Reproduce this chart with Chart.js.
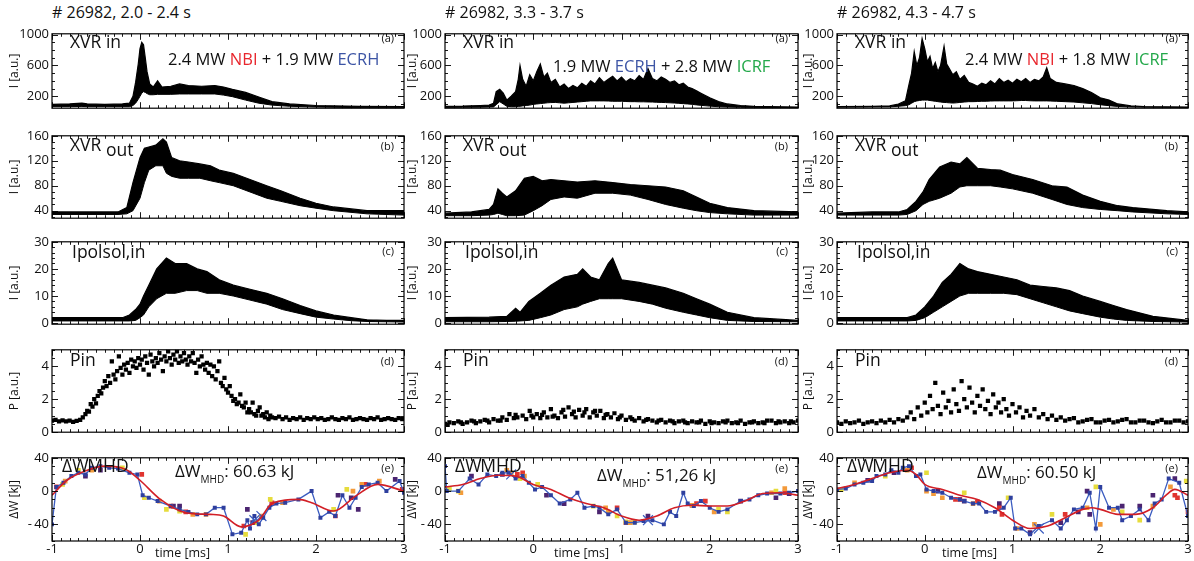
<!DOCTYPE html>
<html>
<head>
<meta charset="utf-8">
<script src="https://cdn.jsdelivr.net/npm/chart.js@4.4.1/dist/chart.umd.min.js"></script>
<style>
  html, body { margin: 0; padding: 0; background: #fff; }
  #fig { position: relative; width: 1194px; height: 561px; overflow: hidden;
         font-family: "Open Sans", sans-serif; color: #111; }
  #fig canvas { position: absolute; }
  .t { position: absolute; white-space: nowrap; line-height: 1; z-index: 2; }
  .nbi { color: #e8262d; } .ecrh { color: #3d55a5; } .icrf { color: #23a84a; }
  .sub { font-size: 10px; position: relative; top: 6px; }
</style>
</head>
<body>
<div id="fig"></div>
<script>
// ---- data ----
const TIME_TICKS = [-1, 0, 1, 2, 3];
const TICKS_A = [200, 600, 1000];
const TICKS_B = [40, 80, 120, 160];
const TICKS_C = [0, 10, 20, 30];
const TICKS_D = [0, 2, 4];
const TICKS_E = [-40, 0, 40];

const TITLES = ["# 26982, 2.0 - 2.4 s", "# 26982, 3.3 - 3.7 s", "# 26982, 4.3 - 4.7 s"];
const DW_MHD = ["60.63 kJ", "51,26 kJ", "60.50 kJ"];

// XVR in: envelopes of the overlaid traces
const T_A1 = [-1, -0.8, -0.66, -0.6, -0.4, -0.2, -0.12, -0.08, -0.05, -0.02, 0.0, 0.02, 0.04, 0.06, 0.08, 0.11, 0.15, 0.2, 0.25, 0.35, 0.45, 0.55, 0.7, 0.85, 0.95, 1.05, 1.2, 1.35, 1.5, 1.7, 2.0, 2.5, 3.0];
const A1_HI = [95, 100, 110, 100, 95, 100, 110, 200, 380, 620, 820, 900, 870, 700, 520, 360, 320, 400, 320, 330, 360, 340, 330, 340, 320, 290, 250, 190, 130, 100, 80, 70, 65];
const A1_LO = [65, 65, 68, 65, 65, 65, 65, 80, 110, 160, 200, 240, 260, 250, 235, 220, 220, 225, 225, 225, 230, 230, 230, 230, 215, 195, 150, 110, 85, 70, 60, 52, 50];

const T_A2 = [-1, -0.8, -0.6, -0.5, -0.45, -0.42, -0.38, -0.34, -0.3, -0.25, -0.2, -0.17, -0.15, -0.12, -0.08, -0.04, 0, 0.04, 0.08, 0.12, 0.16, 0.2, 0.25, 0.3, 0.35, 0.4, 0.45, 0.5, 0.55, 0.6, 0.65, 0.7, 0.75, 0.8, 0.85, 0.9, 0.95, 1.0, 1.05, 1.1, 1.15, 1.2, 1.25, 1.3, 1.35, 1.4, 1.45, 1.5, 1.55, 1.6, 1.65, 1.7, 1.75, 1.8, 1.85, 1.9, 2.0, 2.1, 2.2, 2.35, 2.5, 3.0];
const A2_HI = [70, 72, 80, 85, 110, 260, 290, 240, 150, 200, 260, 420, 600, 420, 330, 480, 400, 520, 620, 450, 500, 380, 420, 320, 360, 300, 340, 310, 370, 330, 400, 360, 440, 380, 420, 460, 400, 450, 390, 430, 400, 470, 420, 560, 430, 400, 450, 420, 380, 400, 350, 370, 320, 300, 270, 240, 180, 130, 100, 80, 70, 60];
const A2_LO = [55, 56, 58, 60, 62, 90, 130, 100, 70, 65, 65, 68, 70, 75, 80, 85, 95, 100, 105, 110, 115, 118, 120, 115, 110, 115, 120, 125, 130, 135, 140, 140, 140, 140, 138, 135, 135, 135, 132, 130, 130, 128, 128, 126, 125, 122, 120, 118, 115, 112, 108, 104, 100, 95, 88, 82, 72, 64, 60, 56, 55, 52];

const T_A3 = [-1, -0.6, -0.4, -0.3, -0.22, -0.18, -0.15, -0.12, -0.09, -0.06, -0.03, 0, 0.03, 0.06, 0.09, 0.12, 0.15, 0.18, 0.22, 0.25, 0.28, 0.32, 0.36, 0.4, 0.45, 0.5, 0.55, 0.6, 0.65, 0.7, 0.75, 0.8, 0.85, 0.9, 0.95, 1.0, 1.05, 1.1, 1.15, 1.2, 1.25, 1.3, 1.35, 1.39, 1.43, 1.5, 1.6, 1.7, 1.8, 1.9, 2.0, 2.1, 2.2, 2.35, 2.5, 3.0];
const A3_HI = [65, 70, 75, 100, 140, 350, 500, 780, 600, 700, 950, 820, 650, 720, 560, 640, 520, 600, 850, 620, 560, 480, 520, 420, 470, 380, 360, 330, 370, 350, 400, 360, 430, 380, 410, 370, 420, 390, 430, 380, 420, 400, 450, 570, 430, 380, 360, 340, 300, 250, 180, 150, 100, 75, 65, 60];
const A3_LO = [58, 60, 62, 70, 78, 90, 110, 130, 140, 145, 150, 150, 150, 145, 140, 135, 130, 125, 120, 118, 115, 112, 115, 120, 125, 130, 130, 132, 135, 135, 138, 140, 140, 140, 140, 140, 142, 145, 145, 142, 140, 140, 140, 140, 138, 135, 130, 125, 115, 105, 90, 78, 68, 60, 58, 55];

// XVR out
const T_B1 = [-1, -0.5, -0.25, -0.15, -0.08, 0.0, 0.05, 0.1, 0.18, 0.26, 0.3, 0.36, 0.45, 0.55, 0.68, 0.8, 0.9, 1.06, 1.25, 1.44, 1.6, 1.82, 2.0, 2.2, 2.58, 3.0];
const B1_HI = [38, 38, 38, 45, 85, 125, 140, 142, 145, 155, 150, 125, 120, 118, 115, 112, 105, 100, 90, 80, 72, 60, 52, 46, 40, 40];
const B1_LO = [34, 34, 34, 35, 40, 60, 85, 105, 112, 112, 100, 95, 92, 92, 92, 88, 85, 80, 70, 60, 55, 48, 44, 40, 35, 33];

const T_B2 = [-1, -0.7, -0.5, -0.45, -0.4, -0.35, -0.3, -0.2, -0.1, 0.0, 0.1, 0.2, 0.35, 0.5, 0.7, 0.9, 1.1, 1.3, 1.5, 1.7, 1.85, 2.0, 2.2, 2.5, 3.0];
const B2_HI = [36, 38, 42, 50, 75, 68, 62, 72, 92, 95, 88, 90, 88, 86, 88, 85, 82, 80, 78, 72, 62, 52, 45, 40, 38];
const B2_LO = [32, 32, 33, 34, 36, 34, 32, 32, 33, 40, 48, 58, 62, 60, 68, 68, 65, 58, 50, 44, 40, 37, 35, 33, 33];

const T_B3 = [-1, -0.6, -0.3, -0.2, -0.1, -0.02, 0.05, 0.17, 0.3, 0.4, 0.48, 0.6, 0.75, 0.86, 1.0, 1.23, 1.45, 1.62, 1.8, 2.0, 2.2, 2.37, 2.76, 3.0];
const B3_HI = [36, 38, 38, 42, 55, 70, 90, 110, 118, 115, 125, 108, 106, 105, 98, 90, 80, 78, 65, 55, 48, 45, 40, 38];
const B3_LO = [33, 33, 33, 34, 40, 50, 55, 60, 68, 78, 80, 80, 80, 78, 75, 68, 58, 50, 45, 42, 40, 38, 35, 34];

// Ipolsol,in
const T_C1 = [-1, -0.5, -0.2, -0.12, -0.05, 0.0, 0.04, 0.1, 0.19, 0.3, 0.4, 0.53, 0.65, 0.76, 0.9, 1.06, 1.25, 1.44, 1.62, 1.82, 2.0, 2.2, 2.4, 2.58, 2.8, 3.0];
const C1_HI = [2, 2, 2, 3, 5, 7, 10, 14, 20, 24, 22, 22, 20, 19, 16, 14, 12.5, 11, 9, 6.5, 4.5, 3, 2, 1.2, 1, 1];
const C1_LO = [0.8, 0.8, 0.8, 0.8, 1, 2, 3, 6, 9, 11, 11, 12, 12, 11, 11, 10, 8.5, 7, 5, 3.5, 2.2, 1.5, 0.9, 0.6, 0.5, 0.4];

const T_C2 = [-1, -0.5, -0.3, -0.2, -0.15, -0.05, 0.08, 0.2, 0.35, 0.5, 0.56, 0.65, 0.75, 0.85, 0.9, 1.0, 1.2, 1.35, 1.5, 1.7, 1.85, 2.0, 2.2, 2.5, 3.0];
const C2_HI = [2, 2.2, 2.5, 5.5, 4, 8, 11, 14, 17, 18, 20, 17, 16, 22, 24, 16, 15, 14, 13, 11, 9, 7, 4, 2, 1];
const C2_LO = [0.5, 0.5, 0.6, 0.7, 0.8, 1, 2, 3, 5, 6, 7, 8, 9, 9, 9, 9, 8, 7, 5.5, 4, 3, 2, 1, 0.6, 0.5];

const T_C3 = [-1, -0.5, -0.2, -0.1, 0.0, 0.1, 0.2, 0.3, 0.4, 0.5, 0.6, 0.75, 0.9, 1.05, 1.2, 1.35, 1.5, 1.65, 1.8, 2.0, 2.15, 2.3, 2.6, 3.0];
const C3_HI = [2, 2, 2, 3, 6, 10, 15, 18, 22, 20, 19, 18, 17, 16, 14, 13.5, 13, 12, 10, 8, 6.5, 5, 2.5, 1];
const C3_LO = [0.8, 0.8, 0.8, 1, 2, 4, 6, 8, 10, 11, 11, 11, 11, 10.5, 9, 7.5, 6, 4.5, 3.5, 2.2, 1.5, 1, 0.6, 0.4];

// Pin scatter [t, P]
const D1 = [[-1,0.7],[-0.96,0.75],[-0.92,0.65],[-0.88,0.72],[-0.84,0.66],[-0.8,0.7],[-0.76,0.62],[-0.72,0.68],[-0.68,0.75],[-0.65,0.9],
  [-0.62,1.1],[-0.6,1.3],[-0.58,1.25],[-0.56,1.7],[-0.54,1.55],[-0.52,2.0],[-0.5,1.75],[-0.48,2.2],[-0.46,2.5],[-0.44,2.35],
  [-0.42,2.7],[-0.4,3.1],[-0.38,2.8],[-0.36,3.4],[-0.34,3.0],[-0.32,4.3],[-0.3,3.5],[-0.28,3.2],[-0.26,3.7],[-0.24,4.6],
  [-0.22,3.9],[-0.2,3.5],[-0.18,4.1],[-0.16,3.8],[-0.14,4.2],[-0.12,3.6],[-0.1,4.4],[-0.08,4.0],[-0.06,4.3],[-0.04,3.9],
  [-0.02,4.5],[0,4.1],[0.02,4.4],[0.04,3.8],[0.06,4.6],[0.08,4.2],[0.1,3.5],[0.12,4.7],[0.14,4.3],[0.16,4.0],
  [0.18,4.5],[0.2,4.2],[0.22,4.8],[0.24,4.4],[0.26,3.7],[0.28,4.6],[0.3,4.3],[0.32,4.9],[0.34,4.5],[0.36,4.1],
  [0.38,4.7],[0.4,4.4],[0.42,4.9],[0.44,4.2],[0.46,4.6],[0.48,4.3],[0.5,4.8],[0.52,4.4],[0.54,4.1],[0.56,4.6],
  [0.58,4.3],[0.6,4.8],[0.62,4.2],[0.64,3.6],[0.66,4.4],[0.68,4.0],[0.7,4.6],[0.72,4.1],[0.74,3.8],[0.76,4.2],
  [0.78,3.6],[0.8,4.1],[0.82,3.4],[0.84,4.0],[0.86,3.2],[0.88,3.7],[0.9,4.3],[0.92,3.0],[0.94,2.8],[0.96,3.3],
  [0.98,2.6],[1.0,2.4],[1.02,2.8],[1.04,2.2],[1.06,1.9],[1.08,2.0],[1.1,1.7],[1.12,1.8],[1.14,2.3],[1.16,1.6],
  [1.18,1.5],[1.2,1.8],[1.22,1.2],[1.24,1.4],[1.26,1.2],[1.28,1.8],[1.3,1.1],[1.32,1.0],[1.34,1.3],[1.36,1.5],
  [1.38,1.0],[1.4,1.1],[1.42,0.9],[1.44,1.2],[1.46,0.8],[1.48,1.0],[1.5,0.9],[1.54,0.85],[1.58,0.95],[1.62,0.8],
  [1.66,0.9],[1.7,0.75],[1.74,0.85],[1.78,0.8],[1.82,0.9],[1.86,0.75],[1.9,0.85],[1.94,0.8],[1.98,0.9],[2.02,0.8],
  [2.06,0.85],[2.1,0.75],[2.14,0.8],[2.18,0.9],[2.22,0.8],[2.26,0.75],[2.3,0.85],[2.34,0.8],[2.38,0.9],[2.42,0.75],
  [2.46,0.8],[2.5,0.85],[2.54,0.8],[2.58,0.75],[2.62,0.85],[2.66,0.8],[2.7,0.9],[2.74,0.75],[2.78,0.8],[2.82,0.85],
  [2.86,0.8],[2.9,0.75],[2.94,0.85],[2.98,0.8]];
const D2 = [[-1,0.5],[-0.95,0.6],[-0.9,0.55],[-0.85,0.65],[-0.8,0.5],[-0.75,0.6],[-0.7,0.7],[-0.65,0.55],[-0.6,0.65],[-0.55,0.75],
  [-0.5,0.6],[-0.45,0.8],[-0.4,0.7],[-0.35,0.9],[-0.3,0.75],[-0.27,1.1],[-0.22,0.85],[-0.18,0.9],[-0.12,1.0],[-0.08,0.8],
  [-0.04,1.3],[0,0.9],[0.04,1.1],[0.08,0.85],[0.12,1.2],[0.16,0.9],[0.2,1.4],[0.24,1.0],[0.28,0.85],[0.32,1.2],
  [0.36,0.95],[0.4,1.5],[0.44,1.1],[0.48,0.9],[0.52,1.35],[0.56,1.0],[0.6,1.4],[0.64,0.9],[0.68,1.2],[0.72,1.0],
  [0.76,1.3],[0.8,0.85],[0.84,1.1],[0.88,0.9],[0.92,1.15],[0.96,0.8],[1.0,1.0],[1.05,0.75],[1.1,0.9],[1.15,0.7],
  [1.2,0.85],[1.25,0.65],[1.3,0.8],[1.35,0.7],[1.4,0.6],[1.45,0.75],[1.5,0.6],[1.55,0.7],[1.6,0.55],[1.65,0.65],
  [1.7,0.7],[1.75,0.55],[1.8,0.65],[1.85,0.6],[1.9,0.7],[1.95,0.5],[2.0,0.65],[2.05,0.6],[2.1,0.55],[2.15,0.65],
  [2.2,0.7],[2.25,0.55],[2.3,0.6],[2.35,0.7],[2.4,0.5],[2.45,0.6],[2.5,0.65],[2.55,0.55],[2.6,0.6],[2.65,0.7],
  [2.7,0.7],[2.75,0.55],[2.8,0.6],[2.85,0.65],[2.9,0.55],[2.95,0.6],[3.0,0.7],
  [-0.97,0.45],[-0.82,0.6],[-0.67,0.65],[-0.52,0.7],[-0.37,0.7],[-0.2,1.05],[-0.02,1.0],[0.1,1.05],[0.22,0.95],[0.34,1.35],
  [0.46,1.25],[0.58,1.2],[0.7,1.3],[0.82,1.05],[0.98,0.9],[1.12,0.8],[1.28,0.75],[1.42,0.7],[1.58,0.65],[1.72,0.6],
  [1.88,0.6],[2.02,0.55],[2.18,0.6],[2.32,0.55],[2.48,0.6],[2.62,0.55],[2.78,0.65],[2.92,0.65]];
const D3 = [[-1,0.6],[-0.95,0.5],[-0.9,0.65],[-0.85,0.55],[-0.8,0.6],[-0.75,0.7],[-0.7,0.5],[-0.65,0.6],[-0.6,0.65],[-0.55,0.55],
  [-0.5,0.7],[-0.45,0.6],[-0.4,0.75],[-0.35,0.6],[-0.3,0.8],[-0.25,0.7],[-0.2,0.9],[-0.16,1.2],[-0.12,0.8],[-0.08,1.5],
  [-0.04,1.0],[0.0,1.8],[0.03,1.2],[0.06,2.2],[0.09,1.4],[0.12,3.0],[0.15,1.6],[0.18,1.1],[0.21,2.4],[0.24,1.5],
  [0.27,1.9],[0.3,1.2],[0.33,2.6],[0.36,1.7],[0.39,1.3],[0.42,3.1],[0.45,2.0],[0.48,1.5],[0.51,2.7],[0.54,1.8],
  [0.57,1.2],[0.6,2.2],[0.63,1.6],[0.66,2.6],[0.69,1.4],[0.72,1.9],[0.75,1.1],[0.78,2.3],[0.81,1.5],[0.84,1.8],
  [0.87,1.2],[0.9,2.0],[0.93,1.4],[0.96,1.0],[1.0,1.7],[1.04,1.2],[1.08,1.5],[1.12,0.9],[1.16,1.3],[1.2,1.0],
  [1.25,1.4],[1.3,0.9],[1.35,1.1],[1.4,0.8],[1.45,1.0],[1.5,0.75],[1.55,0.9],[1.6,0.7],[1.65,0.8],[1.7,0.85],
  [1.75,0.6],[1.8,0.65],[1.85,0.75],[1.9,0.8],[1.95,0.6],[2.0,0.6],[2.05,0.7],[2.1,0.75],[2.15,0.6],[2.2,0.65],
  [2.25,0.75],[2.3,0.8],[2.35,0.6],[2.4,0.6],[2.45,0.7],[2.5,0.7],[2.55,0.6],[2.6,0.55],[2.65,0.65],[2.7,0.75],
  [2.75,0.6],[2.8,0.6],[2.85,0.7],[2.9,0.7],[2.95,0.6],[3.0,0.65]];

// Delta W_MHD: smoothed fit (red)
const T_R1 = [-1, -0.83, -0.6, -0.4, -0.16, 0.0, 0.22, 0.52, 0.8, 0.95, 1.15, 1.35, 1.5, 1.8, 1.95, 2.2, 2.45, 2.7, 3.0];
const R1_Y = [-5, 13, 25, 30, 26, 13, -9, -26, -28, -30, -43, -35, -15, -10, -14, -24, -6, 8, 0];
const T_R2 = [-1, -0.8, -0.6, -0.4, -0.2, 0.0, 0.2, 0.4, 0.6, 0.8, 1.0, 1.2, 1.4, 1.6, 1.8, 2.0, 2.2, 2.4, 2.6, 2.8, 3.0];
const R2_Y = [5, 8, 15, 19, 18, 8, 2, -8, -15, -20, -30, -35, -30, -20, -17, -18, -18, -12, -3, -2, -5];
const T_R3 = [-1, -0.8, -0.6, -0.4, -0.2, -0.1, 0.0, 0.2, 0.4, 0.6, 0.8, 1.0, 1.2, 1.4, 1.6, 1.8, 1.9, 2.0, 2.2, 2.4, 2.6, 2.75, 2.85, 3.0];
const R3_Y = [3, 8, 15, 22, 25, 20, 8, 2, -5, -10, -20, -35, -45, -42, -32, -22, -20, -22, -28, -28, -20, -5, 2, -5];

// Delta W_MHD: raw trace (blue) [t, dW]
const E1_BLUE = [[-1,-40],[-0.95,5],[-0.87,10],[-0.78,18],[-0.7,22],[-0.62,20],[-0.55,28],[-0.45,30],[-0.35,28],[-0.25,27],[-0.12,22],[-0.03,20],[0.03,-5],[0.1,-8],[0.2,-12],[0.35,-18],[0.45,-22],[0.55,-25],[0.65,-28],[0.75,-28],[0.85,-20],[0.95,-20],[1.05,-52],[1.15,-50],[1.22,-35],[1.25,-45],[1.3,-30],[1.35,-40],[1.4,-32],[1.47,-20],[1.55,-15],[1.65,-14],[1.8,-10],[1.95,0],[2.05,-32],[2.15,-25],[2.22,-30],[2.3,-5],[2.38,-20],[2.45,-8],[2.52,5],[2.6,8],[2.7,10],[2.8,0],[2.95,12],[3.0,-2]];
const E2_BLUE = [[-1,30],[-0.98,0],[-0.85,0],[-0.72,15],[-0.62,8],[-0.52,20],[-0.42,18],[-0.35,22],[-0.28,22],[-0.2,15],[-0.12,18],[-0.05,10],[0.02,2],[0.1,5],[0.2,-5],[0.3,-15],[0.42,-10],[0.5,-2],[0.58,-20],[0.68,-18],[0.75,-20],[0.85,-28],[0.95,-22],[1.05,-38],[1.15,-38],[1.25,-36],[1.35,-35],[1.48,-40],[1.55,-25],[1.62,-30],[1.7,-2],[1.75,-15],[1.82,-18],[1.9,-12],[2.0,-20],[2.1,-25],[2.2,-22],[2.35,-12],[2.45,-10],[2.55,-5],[2.65,-3],[2.8,-3],[2.9,-2],[3.0,0]];
const E3_BLUE = [[-1,2],[-0.9,3],[-0.8,8],[-0.7,10],[-0.6,12],[-0.55,18],[-0.45,20],[-0.38,25],[-0.3,22],[-0.25,28],[-0.18,30],[-0.1,18],[-0.05,20],[0.02,2],[0.1,0],[0.2,-2],[0.3,-8],[0.4,-10],[0.45,-12],[0.55,-15],[0.62,-15],[0.7,-25],[0.8,-25],[0.9,-20],[0.98,-8],[1.03,-45],[1.1,-45],[1.2,-52],[1.3,-42],[1.45,-35],[1.55,-45],[1.62,-35],[1.7,-22],[1.8,-20],[1.88,-2],[1.95,-45],[2.0,5],[2.1,-20],[2.2,-20],[2.25,-35],[2.35,-30],[2.45,-22],[2.55,-35],[2.62,-15],[2.7,-10],[2.78,15],[2.9,10],[3.0,-30]];
const E1_CROSS = [[1.3,-35], [1.38,-30]];
const E2_CROSS = [[-0.25,20], [1.3,-35]];
const E3_CROSS = [[1.3,-45]];

// Delta W_MHD: individual shots (coloured squares)
const E1_YELLOW = [[-0.88,8],[-0.7,25],[-0.2,28],[0.05,-8],[0.3,-22],[0.45,-24],[1.2,-52],[1.33,-38],[1.48,-10],[2.35,2],[2.2,-22]];
const E1_ORANGE = [[-0.85,12],[-0.55,25],[0.22,-12],[0.6,-28],[0.75,-28],[1.38,-30],[1.62,-14],[2.42,0],[2.52,8],[2.72,12]];
const E1_RED = [[-0.95,5],[0.02,20],[0.35,-18],[0.52,-25],[1.18,-42],[1.5,-14],[2.22,-30],[2.56,8],[2.98,2]];
const E1_PURPLE = [[-0.62,18],[-0.45,25],[0.38,-18],[0.45,-18],[1.22,-22],[1.28,-38],[1.5,-15],[2.25,-5],[2.4,-8],[2.48,-22],[2.9,14]];
const E2_YELLOW = [[-0.95,2],[-0.85,0],[-0.15,15],[0.05,8],[0.68,-18],[0.95,-30],[1.05,-37],[1.15,-37],[2.1,-22],[2.2,-25],[2.75,0]];
const E2_ORANGE = [[-0.82,-2],[-0.25,22],[-0.3,25],[-0.1,18],[0.82,-20],[0.85,-25],[1.1,-38],[1.8,-17],[2.05,-25],[2.7,-2],[2.85,3]];
const E2_RED = [[-0.18,20],[-0.12,22],[0.95,-20],[1.05,-38],[1.85,-15],[1.95,-12],[2.85,-2]];
const E2_PURPLE = [[-0.7,18],[-0.35,20],[0.15,-5],[0.35,-15],[0.75,-25],[1.3,-30],[1.8,-17],[2.35,-12],[2.75,-8],[2.9,-3]];
const E3_YELLOW = [[-0.95,2],[-0.45,18],[0.02,22],[0.45,-2],[0.95,-8],[1.45,-28],[1.95,5],[2.25,-25],[2.45,-35],[2.98,12]];
const E3_ORANGE = [[-0.8,10],[-0.2,25],[0.02,0],[0.1,-3],[0.2,-8],[0.55,-15],[1.05,-45],[1.25,-40],[1.85,-20],[2.0,-40],[2.15,-22],[2.6,-18],[2.8,5]];
const E3_RED = [[-0.15,28],[0.35,-10],[0.4,-10],[0.6,-13],[0.85,-20],[0.88,-28],[1.6,-28],[2.85,-5],[2.88,-8],[3.0,-25]];
const E3_PURPLE = [[-0.65,13],[-0.35,22],[0.15,0],[0.45,-12],[0.85,-15],[1.2,-50],[1.55,-38],[1.75,-25],[1.88,-28],[1.85,0],[2.25,-18],[2.45,-18],[2.6,-5],[2.85,15]];

// ---- layout ----
const COLS = [
  { l: 52, r: 404, lab: 50, tpad: 5, tag: 394 },
  { l: 445, r: 798, lab: 40, tpad: 0, tag: 788 },
  { l: 837, r: 1188, lab: 36, tpad: 0, tag: 1178 }
];
const ROWS = [
  { t: 31, b: 111, min: 45, max: 1012, ticks: TICKS_A, minor: 100, title: "I [a.u.]" },
  { t: 133, b: 221, min: 28, max: 160, ticks: TICKS_B, minor: 10, title: "I [a.u.]" },
  { t: 239, b: 327, min: -0.4, max: 30, ticks: TICKS_C, minor: 2, title: "I [a.u.]" },
  { t: 347, b: 435, min: 0, max: 5, ticks: TICKS_D, minor: 0.5, title: "P [a.u.]" },
  { t: 455, b: 541, min: -60, max: 40, ticks: TICKS_E, minor: 10, title: "\u0394W [kJ]" }
];

Chart.defaults.font.family = '"Open Sans", sans-serif';
Chart.defaults.color = "#111";

const fig = document.getElementById("fig");

const pairs = (arr) => arr.map((p) => ({ x: p[0], y: p[1] }));
const zip = (t, v) => t.map((x, i) => ({ x, y: v[i] }));

function band(t, lo, hi) {
  return [
    { data: zip(t, lo), borderColor: "#000", borderWidth: 1, pointRadius: 0, fill: false, tension: 0 },
    { data: zip(t, hi), borderColor: "#000", borderWidth: 1.2, pointRadius: 0, fill: "-1", backgroundColor: "#000", tension: 0 }
  ];
}

function dots(arr, color, r) {
  return { data: pairs(arr), showLine: false, pointStyle: "rect", pointRadius: r, pointBackgroundColor: color, pointBorderColor: color, pointBorderWidth: 0 };
}

// box with IDL-like ticks on all four sides
const framePlugin = {
  id: "frame",
  afterDatasetsDraw(chart, args, o) {
    const { ctx, chartArea: a, scales: { x, y } } = chart;
    const near = (v, list) => list.some((m) => Math.abs(m - v) < 1e-6);
    ctx.save();
    ctx.strokeStyle = "#000";
    ctx.lineWidth = 1.2;
    ctx.strokeRect(a.left, a.top, a.right - a.left, a.bottom - a.top);
    ctx.lineWidth = 0.9;
    ctx.beginPath();
    for (let i = -10; i <= 30; i++) {
      const v = i / 10;
      const len = near(v, TIME_TICKS) ? 6 : 3;
      const px = Math.round(x.getPixelForValue(v)) + 0.5;
      ctx.moveTo(px, a.bottom); ctx.lineTo(px, a.bottom - len);
      ctx.moveTo(px, a.top); ctx.lineTo(px, a.top + len);
    }
    const n = Math.round((y.max - y.min) / o.minor) + 2;
    const start = Math.ceil(y.min / o.minor) * o.minor;
    for (let i = 0; i < n; i++) {
      const v = +(start + i * o.minor).toFixed(4);
      if (v > y.max) break;
      const len = near(v, o.major) ? 6 : 3;
      const py = Math.round(y.getPixelForValue(v)) + 0.5;
      ctx.moveTo(a.left, py); ctx.lineTo(a.left + len, py);
      ctx.moveTo(a.right, py); ctx.lineTo(a.right - len, py);
    }
    ctx.stroke();
    ctx.restore();
  }
};

function makePanel(ci, ri, datasets) {
  const c = COLS[ci], r = ROWS[ri];
  const bottom = ri === 4;
  const padB = bottom ? 0 : 8;
  const xh = bottom ? 22 : 0;
  const cv = document.createElement("canvas");
  cv.width = c.r - c.l + c.lab + 6;
  cv.height = r.b - r.t + 8 + padB + xh;
  cv.style.left = (c.l - c.lab) + "px";
  cv.style.top = (r.t - 8) + "px";
  fig.appendChild(cv);

  new Chart(cv, {
    type: "line",
    data: { datasets },
    options: {
      responsive: false,
      animation: false,
      events: [],
      devicePixelRatio: 1,
      layout: { padding: { left: 0, top: 8, right: 6, bottom: padB }, autoPadding: false },
      plugins: {
        legend: { display: false },
        tooltip: { enabled: false },
        frame: { minor: r.minor, major: r.ticks }
      },
      scales: {
        x: {
          type: "linear", min: -1, max: 3, display: bottom,
          afterBuildTicks: (s) => { s.ticks = TIME_TICKS.map((v) => ({ value: v })); },
          afterFit: (s) => { s.height = xh; },
          grid: { display: false, drawTicks: false },
          border: { display: false },
          ticks: { font: { size: 13 }, padding: 0, maxRotation: 0, autoSkip: false, color: "#111" }
        },
        y: {
          type: "linear", min: r.min, max: r.max,
          afterBuildTicks: (s) => { s.ticks = r.ticks.map((v) => ({ value: v })); },
          afterFit: (s) => { s.width = c.lab; },
          grid: { display: false, drawTicks: false },
          border: { display: false },
          ticks: {
            font: { size: 13 }, padding: 3, color: "#111",
            callback: (v) => (v < 0 ? "-\u2009" + Math.abs(v) : String(v))
          },
          title: {
            display: true, text: r.title, color: "#111",
            font: { size: 12 }, padding: { top: c.tpad, bottom: 0 }
          }
        }
      }
    },
    plugins: [framePlugin]
  });
}

const A = [[T_A1, A1_LO, A1_HI], [T_A2, A2_LO, A2_HI], [T_A3, A3_LO, A3_HI]];
const B = [[T_B1, B1_LO, B1_HI], [T_B2, B2_LO, B2_HI], [T_B3, B3_LO, B3_HI]];
const C = [[T_C1, C1_LO, C1_HI], [T_C2, C2_LO, C2_HI], [T_C3, C3_LO, C3_HI]];
const D = [D1, D2, D3];
const RED = [[T_R1, R1_Y], [T_R2, R2_Y], [T_R3, R3_Y]];
const BLUE = [E1_BLUE, E2_BLUE, E3_BLUE];
const CROSS = [E1_CROSS, E2_CROSS, E3_CROSS];
const SQ = [
  [E1_YELLOW, E1_ORANGE, E1_RED, E1_PURPLE],
  [E2_YELLOW, E2_ORANGE, E2_RED, E2_PURPLE],
  [E3_YELLOW, E3_ORANGE, E3_RED, E3_PURPLE]
];
const SQ_COLORS = ["#e6dc3c", "#f39a3a", "#e0342f", "#4b2470"];

for (let ci = 0; ci < 3; ci++) {
  makePanel(ci, 0, band(...A[ci]));
  makePanel(ci, 1, band(...B[ci]));
  makePanel(ci, 2, band(...C[ci]));
  makePanel(ci, 3, [dots(D[ci], "#000", 3)]);
  makePanel(ci, 4, [
    { data: zip(RED[ci][0], RED[ci][1]), borderColor: "#d21f26", borderWidth: 1.6, pointRadius: 0, cubicInterpolationMode: "monotone", fill: false },
    { data: pairs(BLUE[ci]), borderColor: "#3b5cc0", borderWidth: 1.3, pointStyle: "rect", pointRadius: 2.8, pointBackgroundColor: "#2e3f9e", pointBorderWidth: 0, fill: false, tension: 0 },
    { data: pairs(CROSS[ci]), showLine: false, pointStyle: "crossRot", pointRadius: 7, pointBorderColor: "#3b5cc0", pointBorderWidth: 1.2 },
    ...SQ[ci].map((s, k) => dots(s, SQ_COLORS[k], 3.3))
  ]);
}

// ---- text overlays ----
function txt(html, left, cy, size, extra) {
  const d = document.createElement("div");
  d.className = "t";
  d.innerHTML = html;
  d.style.left = left + "px";
  d.style.top = (cy - size * 0.55) + "px";
  d.style.fontSize = size + "px";
  if (extra) Object.assign(d.style, extra);
  fig.appendChild(d);
  return d;
}

const HEAT = [
  '2.4 MW <span class="nbi">NBI</span> + 1.9 MW <span class="ecrh">ECRH</span>',
  '1.9 MW <span class="ecrh">ECRH</span> + 2.8 MW <span class="icrf">ICRF</span>',
  '2.4 MW <span class="nbi">NBI</span> + 1.8 MW <span class="icrf">ICRF</span>'
];
const HEAT_POS = [[168, 60], [553, 67], [965, 60]];
const DW_POS = [[175, 471], [597, 475], [977, 472]];
const TIME_POS = [155, 554, 942];
const TAGS = ["(a)", "(b)", "(c)", "(d)", "(e)"];
const TAG_Y = [38, 146, 251, 361, 468];

COLS.forEach((c, ci) => {
  const x0 = c.l + 18;
  txt(TITLES[ci], c.l, 13, 16);
  txt("XVR in", x0, 43, 17.5);
  txt(HEAT[ci], HEAT_POS[ci][0], HEAT_POS[ci][1], 16.5);
  txt('XVR <span style="position:relative;top:5px">out</span>', x0, 146, 17.5);
  txt("Ipolsol,in", x0 + 2, 253, 17.5);
  txt("Pin", x0, 361, 17.5);
  txt('\u0394W<span style="margin-left:-1px">MHD</span>', c.l + 10, 467, 17.5);
  txt('\u0394W<span class="sub">MHD</span>: ' + DW_MHD[ci], DW_POS[ci][0], DW_POS[ci][1], 17);
  txt("time [ms]", TIME_POS[ci], 554, 12.5);
  TAGS.forEach((tg, ri) => {
    const d = txt(tg, 0, TAG_Y[ri], 11);
    d.style.left = "auto";
    d.style.right = (1194 - c.tag) + "px";
  });
});
</script>
</body>
</html>
